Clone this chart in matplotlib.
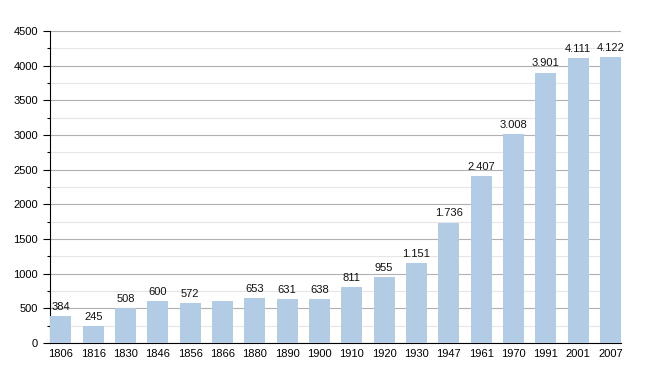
import matplotlib
matplotlib.use("Agg")
import matplotlib.pyplot as plt
from matplotlib.ticker import MultipleLocator

years = ["1806", "1816", "1830", "1846", "1856", "1866", "1880", "1890", "1900",
         "1910", "1920", "1930", "1947", "1961", "1970", "1991", "2001", "2007"]
population = [384, 245, 508, 600, 572, 606, 653, 631, 638,
              811, 955, 1151, 1736, 2407, 3008, 3901, 4111, 4122]
labels = ["384", "245", "508", "600", "572", "", "653", "631", "638",
          "811", "955", "1.151", "1.736", "2.407", "3.008", "3.901", "4.111", "4.122"]

plt.rcParams['font.family'] = ['Liberation Sans', 'DejaVu Sans']

fig = plt.figure(figsize=(6.5, 3.73), dpi=100)
ax = fig.add_axes([50/650, 1 - 343/373, (621-50)/650, (343-31)/373])

x = list(range(len(years)))
bars = ax.bar(x, population, width=0.65, color="#b2cce6", zorder=3)
for rect, lab in zip(bars, labels):
    if lab:
        ax.annotate(lab, (rect.get_x() + rect.get_width()/2, rect.get_height()),
                    xytext=(0, 3), textcoords="offset points",
                    ha="center", va="bottom", fontsize=8, color="#111111")

ax.set_xlim(-0.34, 17.33)
ax.set_ylim(0, 4500)
ax.set_xticks(x)
ax.set_xticklabels(years, fontsize=8)
ax.yaxis.set_major_locator(MultipleLocator(500))
ax.yaxis.set_minor_locator(MultipleLocator(250))
ax.tick_params(axis="y", which="major", length=5, labelsize=8, width=0.8)
ax.tick_params(axis="y", which="minor", length=2.5, width=0.8)
ax.tick_params(axis="x", length=0, labelsize=8, pad=4)
ax.grid(axis="y", which="major", color="#b0b0b0", linewidth=0.8, zorder=0)
ax.grid(axis="y", which="minor", color="#e6e6e6", linewidth=0.8, zorder=0)
for s in ["top", "right"]:
    ax.spines[s].set_visible(False)
ax.spines["left"].set_color("black")
ax.spines["bottom"].set_color("black")

fig.savefig("out.png", dpi=100)
